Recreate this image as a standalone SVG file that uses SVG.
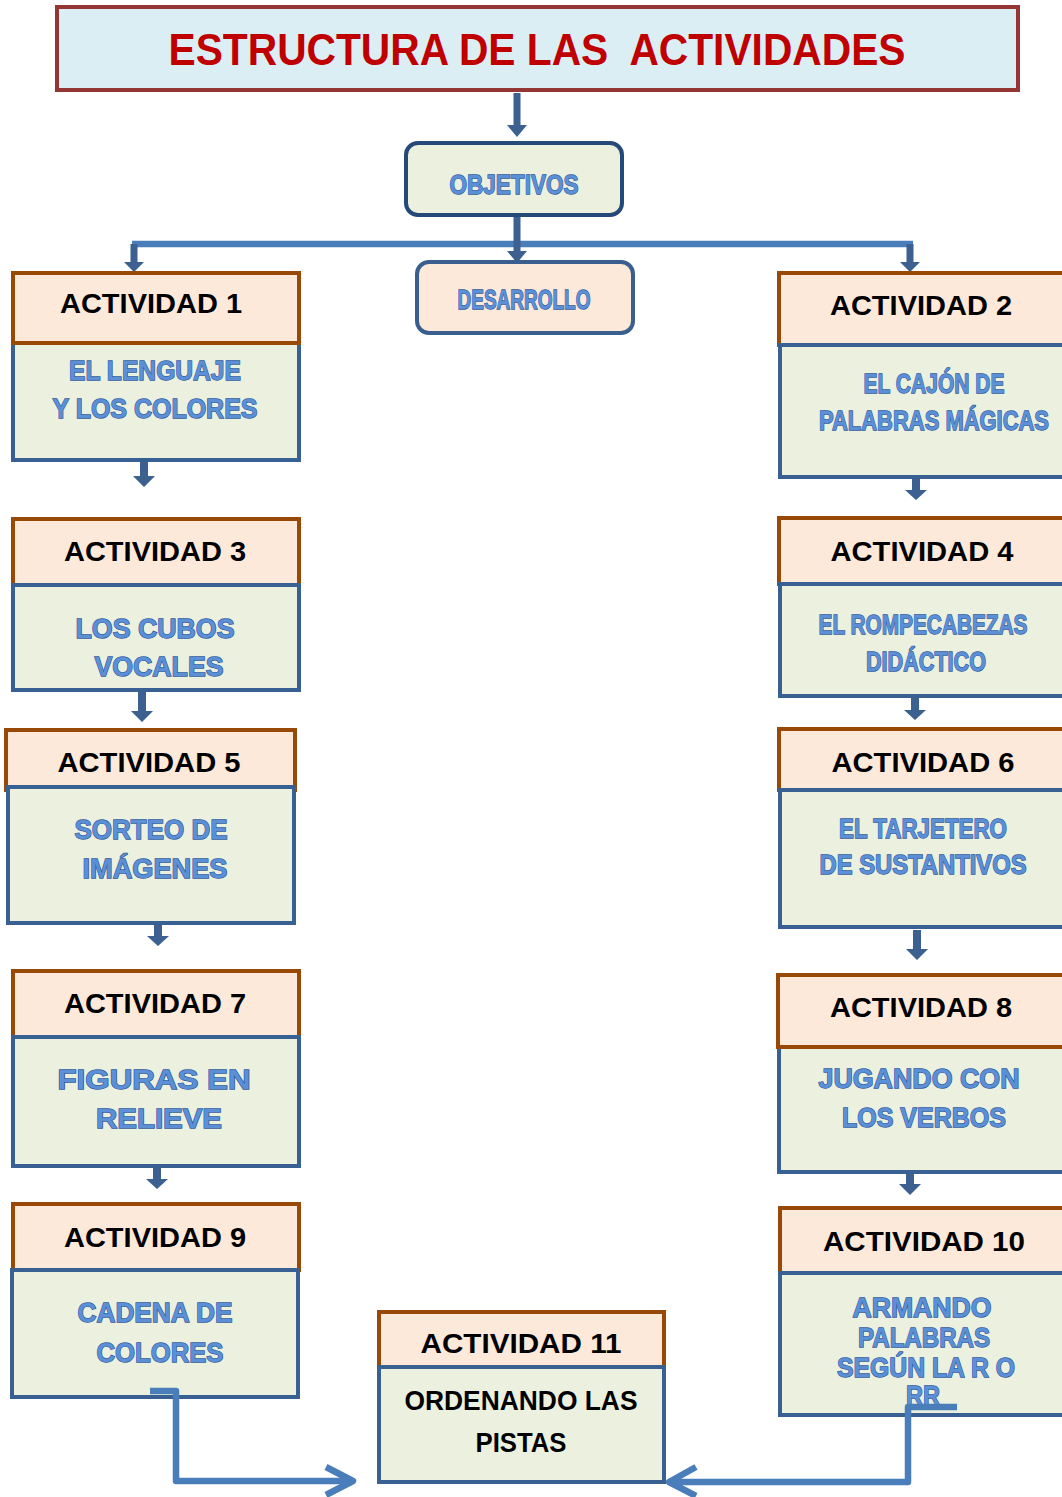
<svg xmlns="http://www.w3.org/2000/svg" width="1062" height="1497" viewBox="0 0 1062 1497">
<style>
.hd{fill:#fde9d9;stroke:#984807;stroke-width:4}
.bd{fill:#ebf1de;stroke:#386092;stroke-width:4}
.ht{font-family:"Liberation Sans",Arial,sans-serif;font-weight:bold;font-size:27px;fill:#000;text-anchor:middle}
.bt{font-family:"Liberation Sans",Arial,sans-serif;font-weight:bold;font-size:27px;fill:#5b8fd6;stroke:#2f5a9e;stroke-width:1.3;paint-order:stroke;text-anchor:middle}
.kt{font-family:"Liberation Sans",Arial,sans-serif;font-weight:bold;font-size:27px;fill:#000;text-anchor:middle}
.ar{fill:#3c6090}
.ln{fill:none;stroke:#4a7ebb;stroke-width:6.5;stroke-linejoin:round}
</style>

<g id="title">
<rect x="57" y="7" width="961" height="83" fill="#dbeef4" stroke="#943634" stroke-width="4"/>
<text x="537" y="65" xml:space="preserve" font-family="Liberation Sans,Arial,sans-serif" font-weight="bold" font-size="44" fill="#c00000" text-anchor="middle" textLength="737" lengthAdjust="spacingAndGlyphs">ESTRUCTURA DE LAS  ACTIVIDADES</text>
</g>

<g id="connectors">
<path class="ar" d="M513.5 93 h7 v32 h6.5 l-10 12 l-10 -12 h6.5 z"/>
<path class="ln" d="M132 244 H913"/>
<path class="ar" d="M513.5 215 h7 v36 h6.5 l-10 12 l-10 -12 h6.5 z"/>
<path class="ar" d="M130.5 244 h7 v18 h6.5 l-10 10 l-10 -10 h6.5 z"/>
<path class="ar" d="M906.5 244 h7 v18 h6.5 l-10 10 l-10 -10 h6.5 z"/>
<path class="ar" d="M140 460 h8 v16 h7 l-11 11 l-11 -11 h7 z"/>
<path class="ar" d="M138 692 h8 v19 h7 l-11 11 l-11 -11 h7 z"/>
<path class="ar" d="M154 924 h8 v12 h7 l-11 10 l-11 -10 h7 z"/>
<path class="ar" d="M153 1167 h8 v12 h7 l-11 10 l-11 -10 h7 z"/>
<path class="ar" d="M912 478 h8 v12 h7 l-11 10 l-11 -10 h7 z"/>
<path class="ar" d="M911 697 h8 v13 h7 l-11 10 l-11 -10 h7 z"/>
<path class="ar" d="M913 930 h8 v19 h7 l-11 11 l-11 -11 h7 z"/>
<path class="ar" d="M906 1166 h8 v18 h7 l-11 11 l-11 -11 h7 z"/>
</g>

<g id="objetivos">
<rect x="406" y="143" width="216" height="72" rx="12" fill="#ebf1de" stroke="#254a7a" stroke-width="4"/>
<text class="bt" x="514" y="194" font-size="22" textLength="129" lengthAdjust="spacingAndGlyphs">OBJETIVOS</text>
</g>

<g id="desarrollo">
<rect x="417" y="262" width="216" height="71" rx="12" fill="#fde9d9" stroke="#3a5f8f" stroke-width="4"/>
<text class="bt" x="524" y="309" font-size="21" textLength="133" lengthAdjust="spacingAndGlyphs">DESARROLLO</text>
</g>

<g id="act1">
<rect class="bd" x="13" y="343" width="286" height="117"/>
<rect class="hd" x="13" y="273" width="286" height="70"/>
<text class="ht" x="151" y="313" textLength="182" lengthAdjust="spacingAndGlyphs">ACTIVIDAD 1</text>
<text class="bt" x="155" y="380" textLength="172" lengthAdjust="spacingAndGlyphs">EL LENGUAJE</text>
<text class="bt" x="155" y="418" textLength="205" lengthAdjust="spacingAndGlyphs">Y LOS COLORES</text>
</g>

<g id="act2">
<rect class="hd" x="779" y="273" width="300" height="72"/>
<rect class="bd" x="780" y="345" width="300" height="132"/>
<text class="ht" x="921" y="315" textLength="182" lengthAdjust="spacingAndGlyphs">ACTIVIDAD 2</text>
<text class="bt" x="934" y="393" font-size="25" textLength="141" lengthAdjust="spacingAndGlyphs">EL CAJÓN DE</text>
<text class="bt" x="934" y="430" font-size="25" textLength="230" lengthAdjust="spacingAndGlyphs">PALABRAS MÁGICAS</text>
</g>

<g id="act3">
<rect class="hd" x="13" y="519" width="286" height="66"/>
<rect class="bd" x="13" y="585" width="286" height="105"/>
<text class="ht" x="155" y="561" textLength="182" lengthAdjust="spacingAndGlyphs">ACTIVIDAD 3</text>
<text class="bt" x="155" y="638" textLength="159" lengthAdjust="spacingAndGlyphs">LOS CUBOS</text>
<text class="bt" x="159" y="676" textLength="129" lengthAdjust="spacingAndGlyphs">VOCALES</text>
</g>

<g id="act4">
<rect class="hd" x="779" y="518" width="300" height="66"/>
<rect class="bd" x="780" y="584" width="300" height="112"/>
<text class="ht" x="922" y="561" textLength="183" lengthAdjust="spacingAndGlyphs">ACTIVIDAD 4</text>
<text class="bt" x="923" y="634" font-size="25" textLength="209" lengthAdjust="spacingAndGlyphs">EL ROMPECABEZAS</text>
<text class="bt" x="926" y="671" font-size="25" textLength="120" lengthAdjust="spacingAndGlyphs">DIDÁCTICO</text>
</g>

<g id="act5">
<rect class="hd" x="6" y="730" width="289" height="60"/>
<rect class="bd" x="8" y="787" width="286" height="136"/>
<text class="ht" x="149" y="772" textLength="183" lengthAdjust="spacingAndGlyphs">ACTIVIDAD 5</text>
<text class="bt" x="151" y="839" textLength="153" lengthAdjust="spacingAndGlyphs">SORTEO DE</text>
<text class="bt" x="155" y="878" textLength="145" lengthAdjust="spacingAndGlyphs">IMÁGENES</text>
</g>

<g id="act6">
<rect class="hd" x="779" y="729" width="300" height="61"/>
<rect class="bd" x="780" y="790" width="300" height="137"/>
<text class="ht" x="923" y="772" textLength="183" lengthAdjust="spacingAndGlyphs">ACTIVIDAD 6</text>
<text class="bt" x="923" y="838" font-size="25" textLength="168" lengthAdjust="spacingAndGlyphs">EL TARJETERO</text>
<text class="bt" x="923" y="874" font-size="25" textLength="207" lengthAdjust="spacingAndGlyphs">DE SUSTANTIVOS</text>
</g>

<g id="act7">
<rect class="hd" x="13" y="971" width="286" height="66"/>
<rect class="bd" x="13" y="1037" width="286" height="129"/>
<text class="ht" x="155" y="1013" textLength="182" lengthAdjust="spacingAndGlyphs">ACTIVIDAD 7</text>
<text class="bt" x="154" y="1089" font-size="26" textLength="193" lengthAdjust="spacingAndGlyphs">FIGURAS EN</text>
<text class="bt" x="159" y="1128" font-size="26" textLength="126" lengthAdjust="spacingAndGlyphs">RELIEVE</text>
</g>

<g id="act8">
<rect class="bd" x="779" y="1047" width="300" height="125"/>
<rect class="hd" x="778" y="975" width="300" height="72"/>
<text class="ht" x="921" y="1017" textLength="182" lengthAdjust="spacingAndGlyphs">ACTIVIDAD 8</text>
<text class="bt" x="919" y="1088" font-size="26" textLength="201" lengthAdjust="spacingAndGlyphs">JUGANDO CON</text>
<text class="bt" x="924" y="1127" font-size="26" textLength="164" lengthAdjust="spacingAndGlyphs">LOS VERBOS</text>
</g>

<g id="act9">
<rect class="hd" x="13" y="1204" width="286" height="66"/>
<rect class="bd" x="12" y="1270" width="286" height="127"/>
<text class="ht" x="155" y="1247" textLength="182" lengthAdjust="spacingAndGlyphs">ACTIVIDAD 9</text>
<text class="bt" x="155" y="1322" textLength="155" lengthAdjust="spacingAndGlyphs">CADENA DE</text>
<text class="bt" x="160" y="1362" textLength="127" lengthAdjust="spacingAndGlyphs">COLORES</text>
</g>

<g id="act10">
<rect class="hd" x="780" y="1208" width="300" height="65"/>
<rect class="bd" x="780" y="1273" width="300" height="142"/>
<text class="ht" x="924" y="1251" textLength="202" lengthAdjust="spacingAndGlyphs">ACTIVIDAD 10</text>
<text class="bt" x="922" y="1317" font-size="23" textLength="139" lengthAdjust="spacingAndGlyphs">ARMANDO</text>
<text class="bt" x="924" y="1347" font-size="23" textLength="132" lengthAdjust="spacingAndGlyphs">PALABRAS</text>
<text class="bt" x="926" y="1377" font-size="23" textLength="178" lengthAdjust="spacingAndGlyphs">SEGÚN LA R O</text>
<text class="bt" x="923" y="1405" font-size="23" textLength="34" lengthAdjust="spacingAndGlyphs">RR</text>
</g>

<g id="act11">
<rect class="hd" x="379" y="1312" width="285" height="55"/>
<rect class="bd" x="379" y="1367" width="285" height="115"/>
<text class="ht" x="521" y="1353" textLength="201" lengthAdjust="spacingAndGlyphs">ACTIVIDAD 11</text>
<text class="kt" x="521" y="1410" textLength="233" lengthAdjust="spacingAndGlyphs">ORDENANDO LAS</text>
<text class="kt" x="521" y="1452" textLength="91" lengthAdjust="spacingAndGlyphs">PISTAS</text>
</g>

<g id="connectors-bottom">
<path class="ln" d="M150 1391 H176 V1481 H352"/>
<path class="ln" d="M326 1467 L353 1481 L326 1495"/>
<path class="ln" d="M957 1407 H908 V1482 H669"/>
<path class="ln" d="M696 1467 L669 1482 L696 1496"/>
</g>
</svg>
